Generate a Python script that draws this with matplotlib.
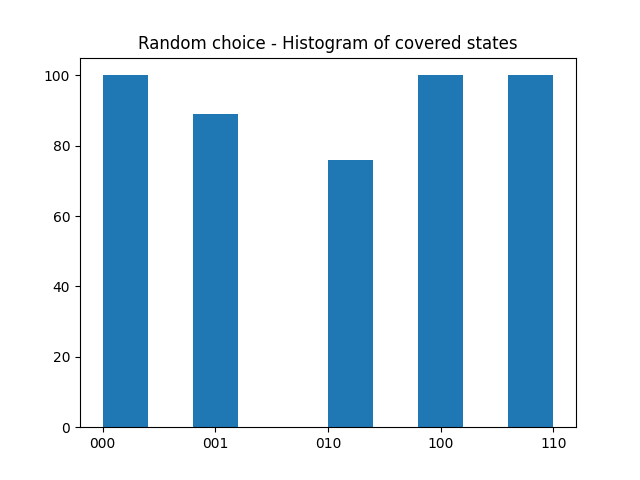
import matplotlib
matplotlib.use("Agg")
import matplotlib.pyplot as plt

categories = ["000", "001", "010", "100", "110"]
counts = [100, 89, 76, 100, 100]

fig = plt.figure(figsize=(6.4, 4.8), dpi=100)
plt.hist(categories, weights=counts, bins=10)
plt.title("Random choice - Histogram of covered states")
plt.savefig("out.png")
